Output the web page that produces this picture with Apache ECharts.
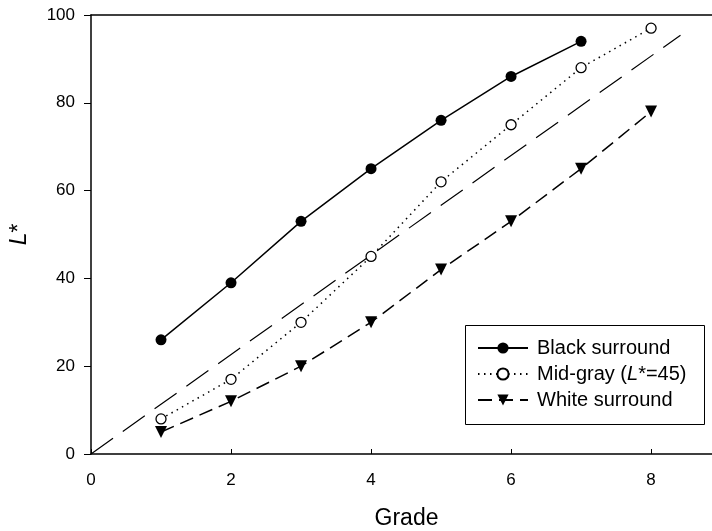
<!DOCTYPE html>
<html><head><meta charset="utf-8">
<script src="https://cdn.jsdelivr.net/npm/echarts@6/dist/echarts.min.js"></script>
<style>html,body{margin:0;padding:0;background:#fff}#c{width:712px;height:531px}</style>
</head><body><div id="c"></div>
<script>
const grades = [1, 2, 3, 4, 5, 6, 7, 8];
const blackSurround = [26, 39, 53, 65, 76, 86, 94];
const midGray = [8, 17, 30, 45, 62, 75, 88, 97];
const whiteSurround = [5, 12, 20, 30, 42, 53, 65, 78];
const refLine = [[0, 0], [8.42, 95.4]];
const xTicks = [0, 2, 4, 6, 8];
const yTicks = [0, 20, 40, 60, 80, 100];

const pairs = (vals) => vals.map((v, i) => [grades[i], v]);
const font = 'Liberation Sans, Arial, sans-serif';

const chart = echarts.init(document.getElementById('c'));
chart.setOption({
  animation: false,
  backgroundColor: '#fff',
  grid: { left: 91, top: 15, right: 0, bottom: 77, outerBoundsMode: 'none', containLabel: false },
  graphic: [{
    type: 'rect', z: 10,
    shape: { x: 465.5, y: 325.5, width: 239, height: 99 },
    style: { fill: 'none', stroke: '#000', lineWidth: 1 }
  }],
  xAxis: [{
    type: 'value', min: 0, max: 8.87, interval: 2,
    name: 'Grade', nameLocation: 'middle', nameGap: 53,
    nameTextStyle: { fontFamily: font, fontSize: 23, color: '#000', padding: [0, 0, 0, 10] },
    axisLine: { lineStyle: { color: '#000', width: 1.5 } },
    axisTick: { inside: true, length: 5, lineStyle: { color: '#000' } },
    axisLabel: { fontFamily: font, fontSize: 17, color: '#000', margin: 18, showMaxLabel: false,
      formatter: v => (xTicks.includes(v) ? String(v) : '') },
    splitLine: { show: false }
  }, {
    type: 'value', position: 'top', min: 0, max: 8.87,
    axisLine: { show: true, lineStyle: { color: '#000', width: 1.5 } },
    axisTick: { show: false }, axisLabel: { show: false }, splitLine: { show: false }
  }],
  yAxis: {
    type: 'value', min: 0, max: 100, interval: 20,
    name: '{i|L}{n|*}', nameLocation: 'middle', nameGap: 60, nameRotate: 90,
    nameTextStyle: { rich: {
      i: { fontFamily: font, fontSize: 23, fontStyle: 'italic', color: '#000' },
      n: { fontFamily: font, fontSize: 23, color: '#000' } } },
    axisLine: { show: true, lineStyle: { color: '#000', width: 1.5 } },
    axisTick: { show: true, length: 7, lineStyle: { color: '#000' } },
    axisLabel: { fontFamily: font, fontSize: 17, color: '#000', margin: 16,
      formatter: v => (yTicks.includes(v) ? String(v) : '') },
    splitLine: { show: false }
  },
  legend: {
    left: 465, top: 325, orient: 'vertical',
    padding: [13, 10, 10, 12], itemGap: 6, itemWidth: 50, itemHeight: 14,
    data: ['Black surround', 'Mid-gray', 'White surround'],
    formatter: name => name === 'Mid-gray' ? '{p|Mid-gray (}{i|L}{n|*=45)}' : '{p|' + name + '}',
    textStyle: { fontFamily: font, fontSize: 20, color: '#000', lineHeight: 20, rich: {
      p: { fontFamily: font, fontSize: 20, color: '#000', padding: [0, 0, 0, 4], lineHeight: 20 },
      n: { fontFamily: font, fontSize: 20, color: '#000', lineHeight: 20 },
      i: { fontFamily: font, fontSize: 20, fontStyle: 'italic', color: '#000', lineHeight: 20 } } }
  },
  series: [
    {
      name: 'Reference', type: 'line', data: refLine, symbol: 'none',
      lineStyle: { color: '#000', width: 1.2, type: [27, 12] }, z: 1, silent: true
    },
    {
      name: 'Black surround', type: 'line', data: pairs(blackSurround),
      symbol: 'circle', symbolSize: 11,
      itemStyle: { color: '#000' },
      lineStyle: { color: '#000', width: 1.5, type: 'solid' }
    },
    {
      name: 'Mid-gray', type: 'line', data: pairs(midGray),
      symbol: 'circle', symbolSize: 10,
      itemStyle: { color: '#fff', borderColor: '#000', borderWidth: 1.3 },
      lineStyle: { color: '#000', width: 1.5, type: [1.5, 4.5] }
    },
    {
      name: 'White surround', type: 'line', data: pairs(whiteSurround),
      symbol: 'triangle', symbolRotate: 180, symbolSize: 12,
      itemStyle: { color: '#000' },
      lineStyle: { color: '#000', width: 1.5, type: [14, 7] }
    }
  ]
});
</script></body></html>
